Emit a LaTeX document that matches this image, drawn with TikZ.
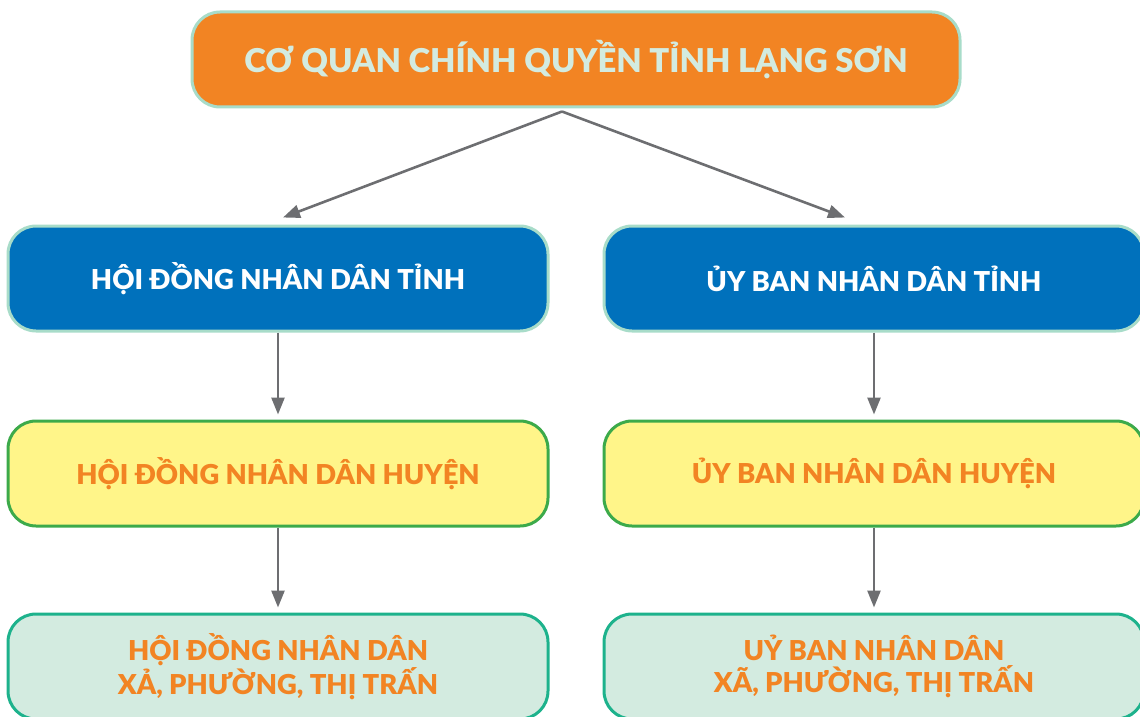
\documentclass[tikz,border=0pt]{standalone}
\usepackage{fontspec}
\setmainfont{Lato}[BoldFont={Lato Black}]
\usetikzlibrary{positioning,arrows.meta}
\definecolor{camcq}{HTML}{F28423}
\definecolor{xanhdam}{HTML}{0071BC}
\definecolor{vienxanh}{HTML}{A8DCC9}
\definecolor{vang}{HTML}{FFF589}
\definecolor{vienvang}{HTML}{3CAA4A}
\definecolor{xanhnhat}{HTML}{D3EBE0}
\definecolor{vienxa}{HTML}{1DB28C}
\definecolor{muiten}{HTML}{6D6E71}
\begin{document}
\begin{tikzpicture}[x=0.5pt, y=-0.5pt, node distance={97.5pt},
	hop/.style = {rounded corners=14pt, line width=1.5pt, minimum width=270pt, minimum height=52.5pt, align=center, font=\bfseries\fontsize{13.7}{16}\selectfont},
	tinh/.style = {hop, draw=vienxanh, fill=xanhdam, text=white},
	huyen/.style = {hop, draw=vienvang, fill=vang, text=camcq},
	xa/.style = {hop, draw=vienxa, fill=xanhnhat, text=camcq},
	mui/.style = {draw=muiten, line width=1.3pt, -{Triangle[length=8.5pt,width=6.5pt]}}]
			\useasboundingbox (0,0) rectangle (1140,717);
			\node[hop, draw=vienxanh, fill=camcq, text=xanhnhat, minimum width=384pt, minimum height=47.5pt, font=\bfseries\fontsize{16.4}{20}\selectfont] (cq) at (576,59.5) {CƠ QUAN CHÍNH QUYỀN TỈNH LẠNG SƠN};
			\node[tinh] (hd1) at (278,278.5) {HỘI ĐỒNG NHÂN DÂN TỈNH};
			\node[tinh, right of = hd1, node distance=298pt] (ub1) {ỦY BAN NHÂN DÂN TỈNH};
			\node[huyen, below of = hd1] (hd2) {HỘI ĐỒNG NHÂN DÂN HUYỆN};
			\node[huyen, below of = ub1] (ub2) {ỦY BAN NHÂN DÂN HUYỆN};
			\node[xa, below of = hd2, node distance=96.5pt] (hd3) {HỘI ĐỒNG NHÂN DÂN\\XẢ, PHƯỜNG, THỊ TRẤN};
			\node[xa, below of = ub2, node distance=96.5pt] (ub3) {UỶ BAN NHÂN DÂN\\XÃ, PHƯỜNG, THỊ TRẤN};
			
			\draw[mui] ([xshift=-7pt,yshift=-1.5pt]cq.south) -- ([xshift=2.5pt,yshift=3.5pt]hd1.north);
			\draw[mui] ([xshift=-7pt,yshift=-1.5pt]cq.south) -- ([xshift=-14.5pt,yshift=3.5pt]ub1.north);
			\draw[mui, shorten >=2.5pt] (hd1) -- (hd2);
			\draw[mui, shorten >=2.5pt] (ub1) -- (ub2);
			\draw[mui, shorten >=2.5pt] (hd2) -- (hd3);
			\draw[mui, shorten >=2.5pt] (ub2) -- (ub3);
		\end{tikzpicture}
\end{document}
